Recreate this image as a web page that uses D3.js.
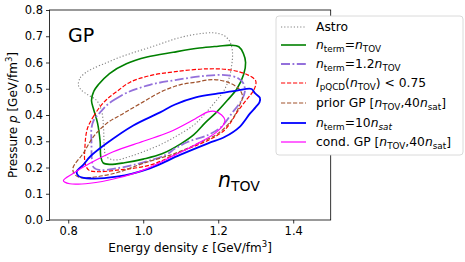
<!DOCTYPE html>
<html>
<head>
<meta charset="utf-8">
<script src="https://cdn.jsdelivr.net/npm/d3@7"></script>
<style>
  body { margin: 0; background: #fff; }
  svg { display: block; font-family: "DejaVu Sans", sans-serif; }
</style>
</head>
<body>
<div id="chart"></div>
<script>
// contour lines, [energy density, pressure] in GeV/fm^3
var astro = [[0.827,0.514],[0.832,0.542],[0.847,0.562],[0.867,0.578],[0.90,0.598],[0.93,0.616],[0.97,0.636],
  [1.01,0.654],[1.05,0.673],[1.09,0.692],[1.13,0.705],[1.165,0.712],[1.19,0.713],[1.215,0.703],[1.231,0.68],
  [1.238,0.64],[1.236,0.59],[1.228,0.535],[1.214,0.49],[1.196,0.457],[1.165,0.405],[1.135,0.362],[1.095,0.325],
  [1.05,0.29],[1.0,0.26],[0.96,0.24],[0.93,0.229],[0.912,0.232],[0.90,0.245],[0.896,0.28],[0.894,0.356],
  [0.889,0.415],[0.876,0.455],[0.853,0.476],[0.835,0.495]]
var ntov = [[0.862,0.455],[0.868,0.49],[0.88,0.515],[0.91,0.558],[0.955,0.595],[1.01,0.621],[1.08,0.639],
  [1.15,0.655],[1.2,0.662],[1.235,0.666],[1.255,0.66],[1.267,0.635],[1.273,0.6],[1.268,0.555],[1.25,0.5],
  [1.225,0.457],[1.195,0.41],[1.165,0.37],[1.135,0.325],[1.10,0.29],[1.05,0.252],[1.0,0.232],[0.95,0.218],
  [0.91,0.212],[0.893,0.218],[0.887,0.24],[0.885,0.3],[0.878,0.37],[0.868,0.42]]
var ntov12 = [[0.905,0.44],[0.925,0.46],[0.956,0.485],[1.018,0.515],[1.085,0.533],[1.165,0.549],[1.218,0.552],
  [1.253,0.54],[1.267,0.521],[1.271,0.489],[1.2625,0.457],[1.236,0.406],[1.209,0.356],[1.173,0.324],
  [1.12,0.298],[1.085,0.272],[1.06,0.248],[0.975,0.21],[0.92,0.195],[0.885,0.19],[0.868,0.2],[0.863,0.23],
  [0.862,0.29],[0.862,0.35],[0.868,0.38],[0.885,0.41]]
var pqcd = [[0.853,0.356],[0.867,0.394],[0.885,0.432],[0.903,0.46],[0.929,0.489],[0.965,0.525],[1.018,0.55],
  [1.085,0.565],[1.173,0.576],[1.236,0.571],[1.28,0.552],[1.3,0.53],[1.296,0.498],[1.272,0.452],[1.25,0.41],
  [1.235,0.375],[1.215,0.34],[1.175,0.305],[1.1,0.26],[1.02,0.21],[0.93,0.19],[0.876,0.184],[0.855,0.19],
  [0.845,0.215],[0.845,0.29],[0.848,0.33]]
var prior = [[0.813,0.2],[0.84,0.254],[0.867,0.317],[0.9025,0.368],[0.947,0.406],[1.0,0.45],[1.05,0.49],
  [1.098,0.515],[1.14,0.525],[1.185,0.535],[1.225,0.525],[1.255,0.5],[1.265,0.47],[1.258,0.44],[1.236,0.381],
  [1.2,0.33],[1.156,0.298],[1.085,0.254],[1.0,0.216],[0.929,0.18],[0.86,0.162],[0.83,0.162],[0.815,0.178]]
var nsat10 = [[0.8225,0.184],[0.84,0.21],[0.858,0.241],[0.9025,0.292],[0.9735,0.36],[1.045,0.41],[1.085,0.44],
  [1.14,0.467],[1.2,0.482],[1.25,0.493],[1.289,0.499],[1.298,0.483],[1.311,0.466],[1.31,0.448],[1.3,0.43],
  [1.285,0.406],[1.258,0.356],[1.218,0.317],[1.173,0.292],[1.098,0.248],[1.018,0.197],[0.929,0.165],
  [0.849,0.159],[0.827,0.168]]
var condgp = [[0.787,0.15],[0.8135,0.178],[0.858,0.216],[0.92,0.26],[1.0,0.30],[1.07,0.335],[1.138,0.385],
  [1.173,0.412],[1.191,0.414],[1.209,0.40],[1.218,0.381],[1.2135,0.362],[1.191,0.33],[1.138,0.286],
  [1.085,0.248],[1.0,0.19],[0.929,0.159],[0.858,0.14],[0.804,0.138]]

var xTicks = [0.8, 1.0, 1.2, 1.4]
var yTicks = [0.0, 0.1, 0.2, 0.3, 0.4, 0.5, 0.6, 0.7, 0.8]

// legend labels as [text, style] parts: i = italic, s = subscript, si = italic subscript
var labels = [
  [["Astro",""]],
  [["n","i"],["term","s"],["=",""],["n","i"],["TOV","s"]],
  [["n","i"],["term","s"],["=1.2",""],["n","i"],["TOV","s"]],
  [["I","i"],["pQCD","s"],["(",""],["n","i"],["TOV","s"],[") < 0.75",""]],
  [["prior GP [",""],["n","i"],["TOV","s"],[",40",""],["n","i"],["sat","s"],["]",""]],
  [["n","i"],["term","s"],["=10",""],["n","i"],["sat","si"]],
  [["cond. GP [",""],["n","i"],["TOV","s"],[",40",""],["n","i"],["sat","s"],["]",""]]
]

var series = [
  {data: astro,  color: "#808080", width: 1.1, dash: "1.2,2"},
  {data: ntov,   color: "green",   width: 1.6, dash: null},
  {data: ntov12, color: "#9370db", width: 1.8, dash: "9,2.5,1.8,2.5"},
  {data: pqcd,   color: "red",     width: 1.2, dash: "4.2,1.8"},
  {data: prior,  color: "#a0522d", width: 1.2, dash: "4.2,1.8"},
  {data: nsat10, color: "blue",    width: 1.8, dash: null},
  {data: condgp, color: "magenta", width: 1.2, dash: null}
]

var W = 465, H = 262
var mLeft = 49.5, mRight = 330.7, mTop = 10, mBottom = 220

var svg = d3.select("#chart").append("svg")
  .attr("width", W).attr("height", H)

var x = d3.scaleLinear().domain([0.75, 1.5]).range([mLeft, mRight])
var y = d3.scaleLinear().domain([0, 0.8]).range([mBottom, mTop])

svg.append("defs").append("clipPath").attr("id", "clip")
  .append("rect").attr("x", mLeft).attr("y", mTop).attr("width", mRight - mLeft).attr("height", mBottom - mTop)

var line = d3.line()
  .x(function(d) { return x(d[0]) })
  .y(function(d) { return y(d[1]) })
  .curve(d3.curveCatmullRomClosed.alpha(0.5))

var plot = svg.append("g").attr("clip-path", "url(#clip)")
series.forEach(function(s) {
  plot.append("path")
    .datum(s.data)
    .attr("d", line)
    .attr("fill", "none")
    .attr("stroke", s.color)
    .attr("stroke-width", s.width)
    .attr("stroke-dasharray", s.dash)
})

// axes
var xAxis = svg.append("g")
  .attr("transform", "translate(0," + mBottom + ")")
  .call(d3.axisBottom(x).tickValues(xTicks).tickFormat(d3.format(".1f")).tickSize(3.5).tickPadding(3).tickSizeOuter(0))
var yAxis = svg.append("g")
  .attr("transform", "translate(" + mLeft + ",0)")
  .call(d3.axisLeft(y).tickValues(yTicks).tickFormat(d3.format(".1f")).tickSize(3.5).tickPadding(3).tickSizeOuter(0))
;[xAxis, yAxis].forEach(function(a) {
  a.select(".domain").remove()
  a.selectAll("text").attr("font-family", "DejaVu Sans").attr("font-size", 11.5).attr("fill", "#000")
  a.selectAll("line").attr("stroke", "#000").attr("stroke-width", 0.8)
})

svg.append("rect")
  .attr("x", mLeft).attr("y", mTop).attr("width", mRight - mLeft).attr("height", mBottom - mTop)
  .attr("fill", "none").attr("stroke", "#000").attr("stroke-width", 0.8)

// axis labels
var xl = svg.append("text").attr("x", (mLeft + mRight) / 2).attr("y", 252)
  .attr("text-anchor", "middle").attr("font-size", 12)
xl.append("tspan").text("Energy density ")
xl.append("tspan").attr("font-style", "italic").text("ε")
xl.append("tspan").text(" [GeV/fm")
xl.append("tspan").attr("font-size", 8.5).attr("dy", -5).text("3")
xl.append("tspan").attr("dy", 5).text("]")

var yl = svg.append("text").attr("transform", "translate(17," + (mTop + mBottom) / 2 + ") rotate(-90)")
  .attr("text-anchor", "middle").attr("font-size", 12)
yl.append("tspan").text("Pressure ")
yl.append("tspan").attr("font-style", "italic").text("p")
yl.append("tspan").text(" [GeV/fm")
yl.append("tspan").attr("font-size", 8.5).attr("dy", -5).text("3")
yl.append("tspan").attr("dy", 5).text("]")

// annotations
svg.append("text").attr("x", 68).attr("y", 42).attr("font-size", 19).text("GP")
var nt = svg.append("text").attr("x", 218).attr("y", 187).attr("font-size", 20.5)
nt.append("tspan").attr("font-style", "italic").text("n")
nt.append("tspan").attr("font-size", 14).attr("dy", 3.5).text("TOV")

// legend
var lg = svg.append("g")
lg.append("rect").attr("x", 276).attr("y", 16).attr("width", 187).attr("height", 139).attr("rx", 3)
  .attr("fill", "#fff").attr("stroke", "#d0d0d0").attr("stroke-width", 0.8)
var rowY = [27, 45, 64, 83, 103, 123, 142]

function addLabel(g, parts, tx, ty) {
  var t = g.append("text").attr("x", tx).attr("y", ty).attr("font-size", 12.3)
  var shift = 0
  parts.forEach(function(p) {
    var sub = p[1] == "s" || p[1] == "si"
    var want = sub ? 3 : 0
    var ts = t.append("tspan").text(p[0]).attr("dy", want - shift)
    shift = want
    if (sub) ts.attr("font-size", 8.8)
    if (p[1] == "i" || p[1] == "si") ts.attr("font-style", "italic")
  })
}

series.forEach(function(s, i) {
  lg.append("line")
    .attr("x1", 281).attr("x2", 306).attr("y1", rowY[i]).attr("y2", rowY[i])
    .attr("stroke", s.color).attr("stroke-width", s.width).attr("stroke-dasharray", s.dash)
  addLabel(lg, labels[i], 316, rowY[i] + 4)
})
</script>
</body>
</html>
